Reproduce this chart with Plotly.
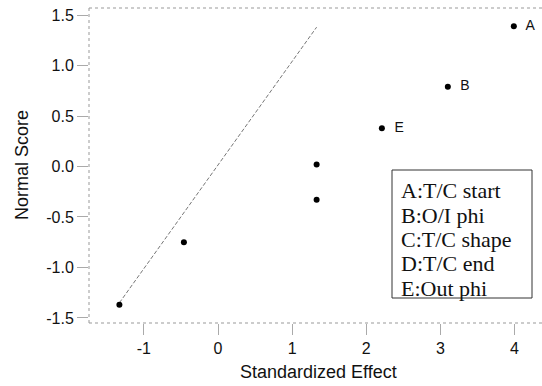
import plotly.graph_objects as go

# data
effects = [-1.33, -0.46, 1.33, 1.33, 2.21, 3.10, 3.99]
scores = [-1.37, -0.75, -0.33, 0.02, 0.38, 0.79, 1.39]
point_labels = ["", "", "", "", "E", "B", "A"]
ref_x = [-1.33, 1.33]
ref_y = [-1.35, 1.38]
legend_lines = ["A:T/C start", "B:O/I phi", "C:T/C shape", "D:T/C end", "E:Out phi"]
x_ticks = [-1, 0, 1, 2, 3, 4]
y_ticks = [-1.5, -1.0, -0.5, 0.0, 0.5, 1.0, 1.5]

SANS = "Liberation Sans, Arial"
SERIF = "Liberation Serif, Times New Roman"

fig = go.Figure()
fig.add_trace(go.Scatter(x=ref_x, y=ref_y, mode="lines",
                         line=dict(color="#777777", width=1, dash="4px,2px"),
                         hoverinfo="skip", showlegend=False))
fig.add_trace(go.Scatter(x=effects, y=scores, mode="markers+text",
                         text=["  " + t if t else "" for t in point_labels],
                         textposition="middle right", cliponaxis=False,
                         textfont=dict(family=SANS, size=14, color="#111"),
                         marker=dict(color="black", size=6), showlegend=False))

# legend box (text box listing the factors)
PLOT_L, PLOT_T, PLOT_B, PLOT_W = 89, 8, 323, 453
def px_x(px):
    return (px - PLOT_L) / PLOT_W
def px_y(py):
    return (PLOT_B - py) / (PLOT_B - PLOT_T)

fig.add_shape(type="rect", xref="paper", yref="paper",
              x0=px_x(392), x1=px_x(532), y0=px_y(298), y1=px_y(170),
              line=dict(color="#333333", width=1), fillcolor="white", layer="above")
for i, line in enumerate(legend_lines):
    fig.add_annotation(x=px_x(399), y=px_y(191 + 24.3 * i), xref="paper", yref="paper",
                       xanchor="left", yanchor="middle", text=line, showarrow=False,
                       font=dict(family=SERIF, size=22, color="#111"))

# axis titles
fig.add_annotation(x=0, y=px_y(165), xref="paper", yref="paper", xanchor="center", yanchor="middle",
                   xshift=-67, text="Normal Score", textangle=-90, showarrow=False,
                   font=dict(family=SANS, size=18, color="#111"))
fig.add_annotation(x=px_x(318), y=0, xref="paper", yref="paper", xanchor="center", yanchor="middle",
                   yshift=-49, text="Standardized Effect", showarrow=False,
                   font=dict(family=SANS, size=18, color="#111"))

axis_common = dict(showgrid=False, zeroline=False, showline=False, automargin=False,
                   ticks="outside", ticklen=11, tickcolor="#aaaaaa",
                   tickfont=dict(family=SANS, size=16, color="#111"))
fig.update_xaxes(range=[-1.74, 4.37], tickvals=x_ticks,
                 ticktext=[str(v) for v in x_ticks], **axis_common)
fig.update_yaxes(range=[-1.55, 1.57], tickvals=y_ticks,
                 ticktext=[f"{v:.1f}" for v in y_ticks], **axis_common)

# dotted frame (top, left, bottom)
for (x0, y0, x1, y1) in [(0, 1, 1, 1), (0, 0, 0, 1), (0, 0, 1, 0)]:
    fig.add_shape(type="line", xref="paper", yref="paper", x0=x0, x1=x1, y0=y0, y1=y1,
                  line=dict(color="#999999", width=1, dash="dot"))

fig.update_layout(width=542, height=386, margin=dict(l=89, r=0, t=8, b=63),
                  plot_bgcolor="white", paper_bgcolor="white")
fig.write_html("out.html", config={"displayModeBar": False},
               post_script="document.body.style.margin='0';document.body.style.padding='0';")
